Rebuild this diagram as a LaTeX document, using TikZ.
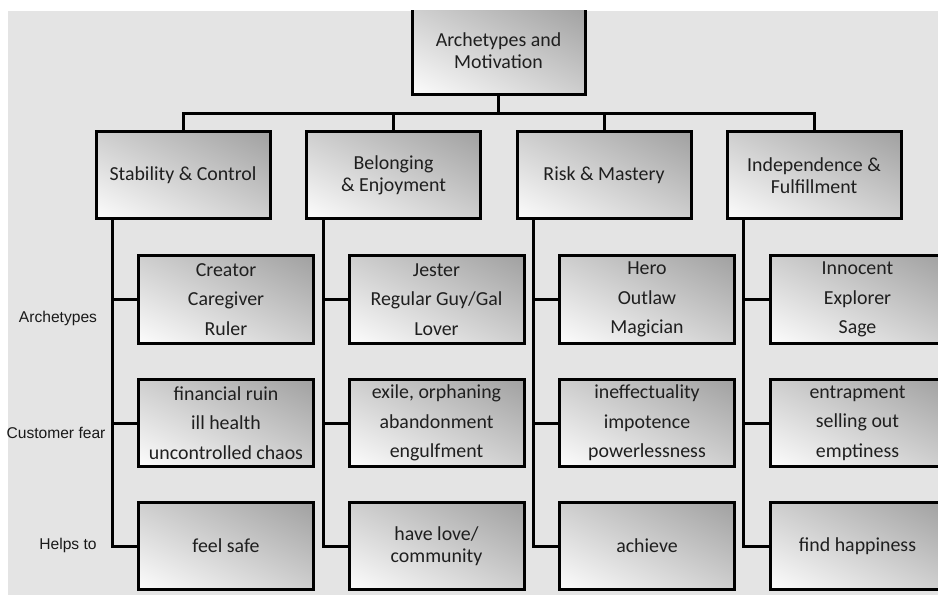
\documentclass[tikz,border=0pt]{standalone}
\usepackage{fontspec}
\setmainfont{Carlito}
\newfontfamily\labelfont{Liberation Sans}
\usetikzlibrary{calc}
\definecolor{bg}{RGB}{228,228,228}
\pgfdeclarefunctionalshading{boxdiag}{\pgfpointorigin}{\pgfpoint{100bp}{100bp}}{}{
  add 50 sub 100 div
  dup 0 lt {pop 0} if
  dup 1 gt {pop 1} if
  -0.36 mul 0.99 add
  dup dup
}
\tikzset{
  box/.style={draw=black, line width=2.25pt, shade, shading=boxdiag,
    align=center, inner sep=0pt, text=black!88},
  topbox/.style={box, minimum width=130.5pt, minimum height=65.25pt,
    font=\fontsize{14.9}{16.3}\selectfont},
  childbox/.style={box, minimum width=131.25pt, minimum height=65.25pt,
    font=\fontsize{14.9}{22.2}\selectfont},
  twoline/.style={font=\fontsize{14.9}{16.3}\selectfont},
  conn/.style={draw=black, line width=2.25pt},
  rowlabel/.style={font=\labelfont\fontsize{11.7}{13}\selectfont, text=black!90, inner sep=0pt}
}
\begin{document}
\begin{tikzpicture}[x=0.75pt, y=-0.75pt]
\useasboundingbox (0,0) rectangle (938,595);
\fill[white] (0,0) rectangle (938,595);
\fill[bg] (8,11) rectangle (938,595);
\begin{scope}
\clip (8,11) rectangle (938,595);

% root
\node[topbox, minimum width=129.75pt, minimum height=66pt] (root) at (498.5,51) {Archetypes and\\Motivation};

% level 1
\node[topbox] (c1) at (183,175.5) {Stability \& Control};
\node[topbox] (c2) at (393.5,175.5) {Belonging\\\& Enjoyment};
\node[topbox] (c3) at (604,175.5) {Risk \& Mastery};
\node[topbox] (c4) at (814,175.5) {Independence \&\\Fulfillment};

% archetypes row
\node[childbox] (a1) at (226,299.5) {Creator\\Caregiver\\Ruler};
\node[childbox] (a2) at (436.5,299.5) {Jester\\Regular Guy/Gal\\Lover};
\node[childbox] (a3) at (647,299.5) {Hero\\Outlaw\\Magician};
\node[childbox] (a4) at (857.5,299.5) {Innocent\\Explorer\\Sage};

% fear row
\node[childbox] (f1) at (226,423) {financial ruin\\ill health\\uncontrolled chaos};
\node[childbox] (f2) at (436.5,423) {exile, orphaning\\abandonment\\engulfment};
\node[childbox] (f3) at (647,423) {ineffectuality\\impotence\\powerlessness};
\node[childbox] (f4) at (857.5,423) {entrapment\\selling out\\emptiness};

% helps row
\node[childbox] (h1) at (226,546) {feel safe};
\node[childbox, twoline] (h2) at (436.5,546) {have love/\\community};
\node[childbox] (h3) at (647,546) {achieve};
\node[childbox] (h4) at (857.5,546) {find happiness};

% bus
\coordinate (bus) at (498.5,113.5);
\draw[conn] (root.south) -- (root.south |- bus);
\draw[conn] (c1.north) -- (c1.north |- bus) -- (c4.north |- bus) -- (c4.north);
\draw[conn] (c2.north) -- (c2.north |- bus);
\draw[conn] (c3.north) -- (c3.north |- bus);

% trunks
\foreach \i in {1,2,3,4}{
  \coordinate (t\i) at ($(c\i.south west)+(18,0)$);
  \draw[conn] (t\i) |- (h\i.west);
  \draw[conn] (a\i.west) -- (a\i.west -| t\i);
  \draw[conn] (f\i.west) -- (f\i.west -| t\i);
}
\end{scope}

% row labels
\node[rowlabel] (la) at (58,318) {Archetypes};
\node[rowlabel] (lf) at (56,433) {Customer fear};
\node[rowlabel] (lh) at (68,545) {Helps to};
\end{tikzpicture}
\end{document}
